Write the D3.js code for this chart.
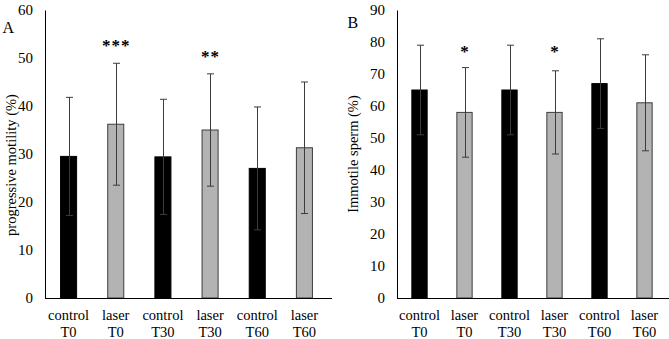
<!DOCTYPE html>
<html lang="en">
<head>
<meta charset="UTF-8">
<script src="https://d3js.org/d3.v7.min.js"></script>
<style>
  body { margin: 0; background: #fff; }
  text { font-family: "Liberation Serif", "Times New Roman", serif; fill: #000; }
</style>
<title>motility</title>
</head>
<body>
<div class="canvas"></div>
<script>
// categories (two-line labels)
const groups = ['control T0', 'laser T0', 'control T30', 'laser T30', 'control T60', 'laser T60'];
const isLaser = [false, true, false, true, false, true];

// panel A: progressive motility (%)
const motilityMean = [29.5, 36.2, 29.4, 35.0, 27.0, 31.3];
const motilitySD   = [12.3, 12.7, 12.0, 11.7, 12.8, 13.7];
const motilitySig  = ['', '***', '', '**', '', ''];
const motilitySigAt = [null, 53.2, null, 50.8, null, null];
const motilityTicks = [0, 10, 20, 30, 40, 50, 60];

// panel B: immotile sperm (%)
const immotileMean = [65, 58, 65, 58, 67, 61];
const immotileSD   = [14, 14, 14, 13, 14, 15];
const immotileSig  = ['', '*', '', '*', '', ''];
const immotileSigAt = [null, 77.9, null, 77.9, null, null];
const immotileTicks = [0, 10, 20, 30, 40, 50, 60, 70, 80, 90];

const width = 669, height = 339;
const svg = d3.select('.canvas').append('svg')
    .attr('width', width).attr('height', height);

function drawPanel(opt) {
    const x = d3.scaleBand().domain(groups)
        .range([opt.left, opt.right]).paddingInner(0.66).paddingOuter(0.33);
    const y = d3.scaleLinear().domain([0, d3.max(opt.ticks)])
        .range([298, 10]);
    const g = svg.append('g');

    // y axis
    const yAxis = d3.axisLeft(y).tickValues(opt.ticks).tickSize(0).tickPadding(12);
    g.append('g').attr('transform', `translate(${opt.left},0)`).call(yAxis)
        .call(a => a.select('.domain').attr('stroke', '#000'))
        .call(a => a.selectAll('text').style('font-size', '15px')
            .style('font-family', '"Liberation Serif", serif'));

    // bars
    g.selectAll('rect.bar').data(groups).enter().append('rect')
        .attr('x', d => x(d))
        .attr('width', x.bandwidth())
        .attr('y', (d, i) => y(opt.mean[i]))
        .attr('height', (d, i) => y(0) - y(opt.mean[i]))
        .attr('fill', (d, i) => isLaser[i] ? '#b3b3b3' : '#000')
        .attr('stroke', (d, i) => isLaser[i] ? '#3c3c3c' : '#000')
        .attr('stroke-width', 1);

    // error bars
    const eb = g.selectAll('g.err').data(groups).enter().append('g')
        .attr('stroke', '#3c3c3c').attr('stroke-width', 1);
    const cx = d => Math.round(x(d) + x.bandwidth() / 2) + 0.5;
    eb.append('line')
        .attr('x1', cx).attr('x2', cx)
        .attr('y1', (d, i) => y(opt.mean[i] - opt.sd[i]))
        .attr('y2', (d, i) => y(opt.mean[i] + opt.sd[i]));
    [-1, 1].forEach(s => {
        eb.append('line')
            .attr('x1', d => cx(d) - 3.5).attr('x2', d => cx(d) + 3.5)
            .attr('y1', (d, i) => y(opt.mean[i] + s * opt.sd[i]))
            .attr('y2', (d, i) => y(opt.mean[i] + s * opt.sd[i]));
    });

    // x axis
    g.append('line').attr('x1', opt.left).attr('x2', opt.right + 4)
        .attr('y1', y(0) + 0.5).attr('y2', y(0) + 0.5).attr('stroke', '#000');

    const xl = g.selectAll('text.xl').data(groups).enter().append('text')
        .attr('text-anchor', 'middle').style('font-size', '14.5px');
    xl.append('tspan').attr('x', d => x(d) + x.bandwidth() / 2).attr('y', 320)
        .text(d => d.split(' ')[0]);
    xl.append('tspan').attr('x', d => x(d) + x.bandwidth() / 2).attr('y', 337)
        .text(d => d.split(' ')[1]);

    // significance stars
    const stars = groups.map((d, i) => ({ g: d, s: opt.sig[i], at: opt.sigAt[i] }))
        .filter(d => d.s);
    g.selectAll('text.sig').data(stars).enter().append('text')
        .attr('x', d => x(d.g) + x.bandwidth() / 2 + 0.5)
        .attr('y', d => y(d.at) + 8)
        .attr('text-anchor', 'middle')
        .style('font-size', '17px').style('font-weight', 'bold')
        .style('letter-spacing', '1px')
        .text(d => d.s);

    // y label
    g.append('text')
        .attr('transform', `translate(${opt.labelX},${opt.labelY}) rotate(-90)`)
        .attr('text-anchor', 'middle')
        .style('font-size', '14.5px')
        .text(opt.label);

    // panel letter
    g.append('text').attr('x', opt.letterX).attr('y', opt.letterY)
        .style('font-size', '16px').text(opt.letter);
}

drawPanel({
    left: 45, right: 328, ticks: motilityTicks,
    mean: motilityMean, sd: motilitySD, sig: motilitySig, sigAt: motilitySigAt,
    label: 'progressive motility (%)', labelX: 16, labelY: 165,
    letter: 'A', letterX: 2.5, letterY: 33
});
drawPanel({
    left: 397, right: 667, ticks: immotileTicks,
    mean: immotileMean, sd: immotileSD, sig: immotileSig, sigAt: immotileSigAt,
    label: 'Immotile sperm (%)', labelX: 358, labelY: 154,
    letter: 'B', letterX: 347.5, letterY: 28
});
</script>
</body>
</html>
